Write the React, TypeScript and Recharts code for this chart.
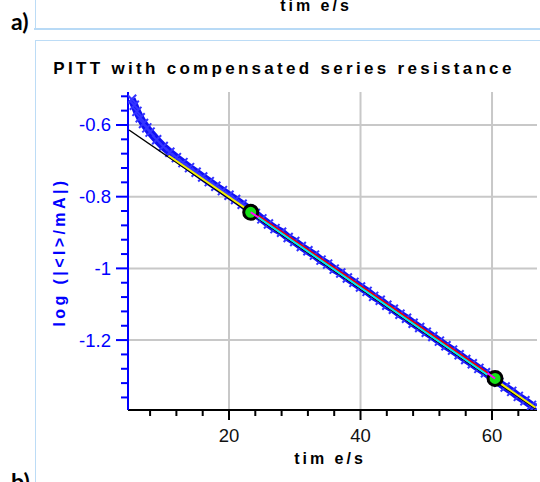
import React from 'react';
import { ComposedChart, Line, Scatter, XAxis, YAxis, CartesianGrid } from 'recharts';

// measured current (log) vs time
const blueTime = [
  5.2, 5.6, 6, 6.5, 7, 7.5, 8, 9, 10, 11, 12, 13, 14, 15, 16, 17, 18, 19, 20, 21, 22, 23, 24, 25,
  26, 27, 28, 29, 30, 31, 32, 33, 34, 35, 36, 37, 38, 39, 40, 41, 42, 43, 44, 45, 46, 47, 48, 49,
  50, 51, 52, 53, 54, 55, 56, 57, 58, 59, 60, 61, 62, 63, 64, 65, 66, 66.4,
];
const blueLog = [
  -0.528, -0.545, -0.562, -0.58, -0.596, -0.608, -0.62, -0.641, -0.66, -0.676, -0.691, -0.705,
  -0.719, -0.732, -0.745, -0.758, -0.771, -0.783, -0.796, -0.808, -0.821, -0.834, -0.847, -0.862,
  -0.876, -0.889, -0.899, -0.914, -0.925, -0.939, -0.951, -0.963, -0.977, -0.988, -1.002, -1.013,
  -1.027, -1.039, -1.052, -1.064, -1.078, -1.089, -1.103, -1.114, -1.128, -1.139, -1.153, -1.165,
  -1.178, -1.19, -1.203, -1.216, -1.228, -1.241, -1.254, -1.266, -1.279, -1.291, -1.304, -1.318,
  -1.331, -1.343, -1.357, -1.369, -1.382, -1.387,
];

// fit lines
const blackFitT = [4.8, 66.6];
const blackFitV = [-0.614, -1.3915];
const yellowFitT = [10.8, 66.6];
const yellowFitV = [-0.685, -1.388];
const redFitT = [24.3, 59.4];
const redFitV = [-0.851, -1.293];
const cyanFitT = [24.3, 59.4];
const cyanFitV = [-0.856, -1.298];
const magentaAT = [23.3, 24.5];
const magentaAV = [-0.8435, -0.858];
const magentaBT = [59.3, 60.46];
const magentaBV = [-1.292, -1.307];

// fit window markers
const markerT = [23.3, 60.46];
const markerV = [-0.8435, -1.307];

const xTicks = [8, 12, 16, 20, 24, 28, 32, 36, 40, 44, 48, 52, 56, 60, 64];
const xMajor = [20, 40, 60];
const yTicks = [
  -0.52, -0.56, -0.6, -0.64, -0.68, -0.72, -0.76, -0.8, -0.84, -0.88, -0.92, -0.96, -1, -1.04,
  -1.08, -1.12, -1.16, -1.2, -1.24, -1.28, -1.32, -1.36,
];
const yMajor = [-0.6, -0.8, -1, -1.2];

const pts = (t: number[], v: number[]) => t.map((x, i) => ({ t: x, v: v[i] }));

const FONT = "'Liberation Sans', Arial, sans-serif";
const BLUE = '#0000ff';

const XTick = ({ x, y, payload }: any) => {
  const major = xMajor.includes(payload.value);
  return (
    <g>
      <line x1={x} x2={x} y1={y} y2={y + (major ? 10 : 6)} stroke="#000" strokeWidth={2} />
      {major && (
        <text x={x} y={y + 32} textAnchor="middle" fontSize={18.5} fontFamily={FONT} fill="#111">
          {payload.value}
        </text>
      )}
    </g>
  );
};

const YTick = ({ x, y, payload }: any) => {
  const major = yMajor.some(m => Math.abs(m - payload.value) < 1e-6);
  return (
    <g>
      <line x1={x - (major ? 12 : 7)} x2={x} y1={y} y2={y} stroke={BLUE} strokeWidth={2} />
      {major && (
        <text x={x - 17} y={y + 6.5} textAnchor="end" fontSize={18.5} fontFamily={FONT} fill={BLUE}>
          {String(payload.value)}
        </text>
      )}
    </g>
  );
};

const XMark = (p: any) => {
  const { cx, cy } = p;
  if (cx == null || cy == null) return <g />;
  const s = 4.5;
  return (
    <path
      d={`M${cx - s},${cy - s}L${cx + s},${cy + s}M${cx - s},${cy + s}L${cx + s},${cy - s}`}
      stroke="#3434ff"
      strokeWidth={2}
    />
  );
};

const Ring = (p: any) => (
  <circle cx={p.cx} cy={p.cy} r={7} fill="#16e016" stroke="#000" strokeWidth={3} />
);

const NoShape = () => <g />;

export default function App() {
  return (
    <div style={{ position: 'absolute', left: 0, top: 0, width: 540, height: 482, background: '#fff', overflow: 'hidden' }}>
      <ComposedChart width={540} height={482} margin={{ top: 92, right: 3, bottom: 0, left: 0 }}>
        <CartesianGrid
          stroke="#c8c8c8"
          strokeWidth={2}
          verticalValues={xMajor}
          horizontalValues={yMajor}
        />
        <XAxis
          dataKey="t"
          type="number"
          domain={[4.64, 66.84]}
          allowDataOverflow
          ticks={xTicks}
          interval={0}
          height={72}
          tickSize={0}
          tickMargin={0}
          tickLine={false}
          axisLine={{ stroke: '#000', strokeWidth: 2 }}
          tick={<XTick />}
        />
        <YAxis
          dataKey="v"
          type="number"
          domain={[-1.395, -0.508]}
          allowDataOverflow
          ticks={yTicks}
          interval={0}
          width={128}
          tickSize={0}
          tickMargin={0}
          tickLine={false}
          axisLine={{ stroke: BLUE, strokeWidth: 2 }}
          tick={<YTick />}
        />
        <Line
          data={pts(blueTime, blueLog)}
          dataKey="v"
          stroke="#1010f4"
          strokeWidth={8}
          dot={false}
          activeDot={false}
          isAnimationActive={false}
        />
        <Scatter data={pts(blueTime, blueLog)} dataKey="v" shape={XMark} isAnimationActive={false} />
        <Scatter data={pts(blackFitT, blackFitV)} dataKey="v" shape={NoShape} line={{ stroke: '#000', strokeWidth: 1.5 }} isAnimationActive={false} />
        <Scatter data={pts(yellowFitT, yellowFitV)} dataKey="v" shape={NoShape} line={{ stroke: '#f4f000', strokeWidth: 2 }} isAnimationActive={false} />
        <Scatter data={pts(redFitT, redFitV)} dataKey="v" shape={NoShape} line={{ stroke: '#ee0000', strokeWidth: 2 }} isAnimationActive={false} />
        <Scatter data={pts(cyanFitT, cyanFitV)} dataKey="v" shape={NoShape} line={{ stroke: '#00e8f0', strokeWidth: 2 }} isAnimationActive={false} />
        <Scatter data={pts(markerT, markerV)} dataKey="v" shape={Ring} isAnimationActive={false} />
        <Scatter data={pts(magentaAT, magentaAV)} dataKey="v" shape={NoShape} line={{ stroke: '#ff00ff', strokeWidth: 2 }} isAnimationActive={false} />
        <Scatter data={pts(magentaBT, magentaBV)} dataKey="v" shape={NoShape} line={{ stroke: '#ff00ff', strokeWidth: 2 }} isAnimationActive={false} />
      </ComposedChart>

      <svg width={540} height={482} style={{ position: 'absolute', left: 0, top: 0, pointerEvents: 'none' }}>
        <line x1={35.5} x2={35.5} y1={0} y2={29} stroke="#bcdcf6" strokeWidth={1} />
        <line x1={34} x2={540} y1={29} y2={29} stroke="#b8daf6" strokeWidth={2} />
        <line x1={35} x2={540} y1={40.5} y2={40.5} stroke="#bcdcf6" strokeWidth={1} />
        <line x1={35.5} x2={35.5} y1={40} y2={482} stroke="#bcdcf6" strokeWidth={1} />
        <text x={11} y={30} fontSize={23} fontWeight="bold" fontFamily="Lato, 'Open Sans', sans-serif" fill="#000">a)</text>
        <text x={11} y={490} fontSize={23} fontWeight="bold" fontFamily="Lato, 'Open Sans', sans-serif" fill="#000">b)</text>
        <text x={316} y={11} textAnchor="middle" fontSize={16} fontWeight="bold" letterSpacing={3} fontFamily={FONT} fill="#000">tim e/s</text>
        <text x={284} y={74} textAnchor="middle" fontSize={17} fontWeight="bold" letterSpacing={3.3} fontFamily={FONT} fill="#000">
          PITT with compensated series resistance
        </text>
        <text x={330} y={464} textAnchor="middle" fontSize={16} fontWeight="bold" letterSpacing={3} fontFamily={FONT} fill="#000">tim e/s</text>
        <text
          transform="translate(65,252) rotate(-90)"
          textAnchor="middle"
          fontSize={16}
          fontWeight="bold"
          letterSpacing={3.4}
          fontFamily={FONT}
          fill={BLUE}
        >
          {'log (|<I>/mA|)'}
        </text>
      </svg>
    </div>
  );
}
